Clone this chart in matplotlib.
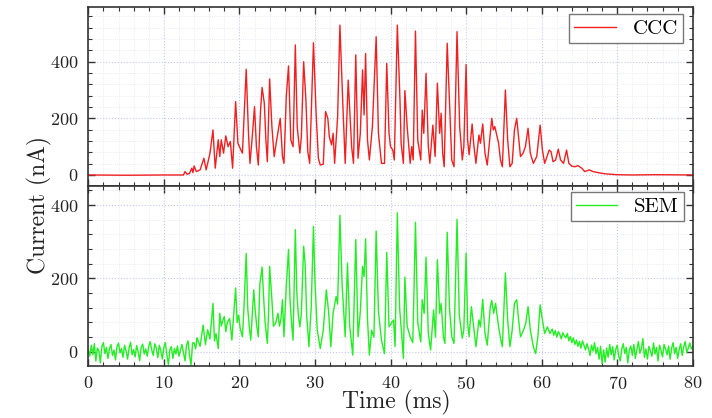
import matplotlib
matplotlib.use("Agg")
import matplotlib.pyplot as plt
from matplotlib.ticker import MultipleLocator
import numpy as np

plt.rcParams["font.family"] = ["cmr10", "DejaVu Serif"]
plt.rcParams["mathtext.fontset"] = "cm"
plt.rcParams["axes.formatter.use_mathtext"] = True

# ─── CCC signal ──────────────────────────────────────────────────────────────
ccc_time = [
    0, 5, 10, 12.6, 12.8, 13.1, 13.4, 13.7, 13.85, 14.0, 14.3, 14.8, 15.3, 15.6,
    16.1, 16.5, 16.8, 17.2, 17.4, 17.6, 17.9, 18.2, 18.5, 18.8, 19.1, 19.5, 19.8,
    20.1, 20.4, 20.9, 21.2, 21.4, 21.7, 22.0, 22.25, 22.5, 22.8, 23.0, 23.3, 23.5,
    23.7, 24.0, 24.3, 24.6, 24.9, 25.4, 25.7, 25.9, 26.2, 26.5, 26.8, 27.1, 27.4,
    27.65, 28.0, 28.2, 28.5, 28.8, 29.05, 29.3, 29.8, 30.15, 30.45, 30.7, 31.1,
    31.4, 31.7, 31.9, 32.2, 32.4, 32.6, 33.0, 33.3, 33.7, 34.0, 34.4, 34.85, 35.1,
    35.4, 35.7, 36.0, 36.3, 36.5, 36.7, 36.95, 37.2, 37.6, 38.1, 38.4, 38.8, 39.2,
    39.5, 39.8, 40.0, 40.3, 40.5, 40.9, 41.25, 41.4, 41.7, 41.9, 42.2, 42.6, 42.8,
    43.0, 43.3, 43.6, 44.0, 44.2, 44.4, 44.7, 45.0, 45.2, 45.6, 45.9, 46.2, 46.5,
    46.7, 46.9, 47.1, 47.5, 47.85, 48.1, 48.4, 48.8, 49.15, 49.5, 49.7, 50.0, 50.2,
    50.4, 50.8, 51.0, 51.3, 51.7, 51.9, 52.2, 52.5, 52.8, 53.2, 53.4, 53.6, 53.8,
    54.0, 54.3, 54.55, 54.8, 55.2, 55.5, 55.8, 56.1, 56.4, 56.7, 56.9, 57.2, 57.55,
    57.85, 58.2, 58.5, 58.9, 59.35, 59.8, 60.1, 60.4, 60.7, 61.0, 61.25, 61.5,
    61.85, 62.2, 62.5, 62.9, 63.3, 63.6, 64.0, 64.4, 64.8, 65.3, 65.7, 66.3, 66.8,
    67.5, 68.4, 69.9, 72, 75, 80,
]
ccc_current = [
    0, -1, 0, 0, 12, 2, 6, 24, 8, 32, 12, 18, 59, 18,
    76, 159, 24, 124, 65, 124, 77, 138, 100, 118, 24, 259, 112,
    94, 77, 373, 147, 41, 135, 241, 100, 35, 229, 309, 253, 124,
    47, 339, 171, 65, 118, 200, 65, 41, 276, 385, 124, 100, 459,
    171, 77, 135, 400, 265, 82, 41, 467, 218, 59, 35, 38,
    224, 200, 135, 106, 147, 41, 206, 529, 241, 41, 335, 100, 41,
    424, 59, 147, 371, 212, 429, 124, 53, 171, 488, 147, 41, 41,
    394, 147, 100, 88, 53, 529, 265, 112, 41, 298, 171, 41, 100,
    53, 508, 124, 53, 229, 147, 359, 100, 41, 176, 65, 324, 147,
    218, 77, 29, 465, 229, 53, 29, 506, 171, 53, 100, 390, 124,
    71, 180, 112, 41, 141, 112, 180, 77, 35, 147, 200, 159, 171,
    147, 112, 53, 29, 300, 124, 29, 41, 159, 200, 147, 65, 77,
    100, 165, 77, 41, 65, 176, 88, 41, 65, 88, 82, 47,
    53, 91, 53, 41, 88, 41, 31, 29, 33, 24, 12, 18, 12,
    8, 4, 1, 0, 1, 0,
]

# ─── SEM signal ──────────────────────────────────────────────────────────────
# baseline noise before the spill, one value every 0.2 ms from t = 0
sem_head = [
    5, -12, 18, -8, 22, -25, 10, 3, -30, 15,
    25, -5, 12, -18, 8, 20, -10, 5, -22, 14,
    24, -3, 9, -15, 18, 2, -20, 11, 26, -8,
    6, -14, 17, 0, -24, 12, 21, -6, 8, -12,
    15, 28, 5, -10, 22, 10, -16, 18, 3, -20,
    12, 25, -8, -35, 6, 14, -18, 9, -6, 16,
    -12, 4, 20, -2, -25, 18, 30, -10, -36, 24,
    25, 8, 38,
]
sem_time = [
    14.5, 14.8, 15.2, 15.5, 15.8, 16.1, 16.5, 16.7, 16.9, 17.2, 17.4, 17.6, 17.8,
    18.0, 18.2, 18.4, 18.7, 19.0, 19.2, 19.5, 19.7, 19.9, 20.1, 20.4, 20.6, 20.9,
    21.1, 21.3, 21.5, 21.7, 21.9, 22.1, 22.3, 22.5, 22.7, 23.0, 23.2, 23.4, 23.7,
    23.85, 24.0, 24.3, 24.5, 24.8, 25.1, 25.3, 25.5, 25.7, 25.9, 26.2, 26.5, 26.7,
    26.9, 27.1, 27.4, 27.6, 27.8, 28.0, 28.2, 28.5, 28.7, 28.9, 29.2, 29.5, 29.8,
    30.0, 30.3, 30.7, 31.1, 31.5, 31.8, 32.1, 32.4, 32.8, 33.0, 33.3, 33.6, 34.0,
    34.3, 34.6, 35.0, 35.4, 35.7, 36.0, 36.3, 36.5, 36.7, 36.95, 37.2, 37.5, 37.8,
    38.1, 38.4, 38.8, 39.2, 39.5, 39.8, 40.1, 40.4, 40.6, 40.9, 41.2, 41.5, 41.7,
    41.9, 42.2, 42.6, 42.95, 43.3, 43.6, 44.0, 44.2, 44.45, 44.7, 45.0, 45.3, 45.7,
    45.95, 46.2, 46.5, 46.7, 47.0, 47.2, 47.5, 47.8, 48.1, 48.4, 48.8, 49.1, 49.5,
    49.7, 50.0, 50.2, 50.4, 50.7, 51.0, 51.3, 51.7, 51.9, 52.2, 52.5, 52.8, 53.2,
    53.4, 53.65, 53.9, 54.3, 54.6, 54.8, 55.2, 55.5, 55.8, 56.1, 56.4, 56.7, 56.95,
    57.2, 57.6, 57.9, 58.2, 58.5, 58.9, 59.2, 59.5, 59.8, 60.1, 60.4, 60.75, 61.1,
]
sem_current = [
    32, 15, 73, 20, 60, 35, 132, 30, 50, 9, 105, 70, 85,
    96, 55, 80, 91, 32, 90, 174, 80, 100, 64, 41, 120, 268,
    120, 70, 32, 100, 169, 110, 70, 41, 183, 231, 150, 80, 23,
    100, 233, 142, 70, 78, 105, 70, 90, 142, 41, 178, 279, 140,
    80, 32, 333, 160, 100, 68, 105, 288, 240, 100, 14, 120, 342,
    190, 60, 9, 59, 169, 110, 14, 105, 151, 130, 372, 180, 41,
    242, 70, -9, 306, 41, 110, 233, 205, 308, 90, -9, 59, 40,
    329, 110, 32, -5, 271, 68, 78, 87, 14, 379, 120, 40, -18,
    204, 70, 41, 25, 353, 80, 27, 142, 105, 258, 50, 5, 114,
    40, 251, 105, 132, 40, 23, 326, 120, 41, 23, 361, 100, 37,
    60, 269, 80, 41, 123, 68, 14, 87, 68, 143, 50, 18, 123,
    140, 105, 132, 68, 32, 14, 215, 87, 14, 59, 132, 142, 87,
    41, 59, 78, 123, 59, 14, -5, 41, 128, 87, 50, 68, 50,
]
# decaying tail, one value every 0.2 ms from t = 61.4 to 80
sem_tail = [
    62, 45, 58, 40, 55, 48, 35, 52, 44, 38, 50, 30, 42,
    25, 38, 20, 32, 15, 28, 10, 30, 18, 5,
    22, 8, -10, 18, 2, 25, -5, 12, -20, 15,
    -32, 5, -28, 10, -15, 20, -8, 14, -22, 6,
    18, -12, -25, 8, 22, -5, 12, -30, 4, 16,
    -10, 20, -18, 6, 28, -4, 10, 36, -15, 8,
    -20, 15, 2, -12, 24, -6, 12, -25, 18, 4,
    -14, 20, 8, -8, 16, -20, 10, 25, -5, 12,
    -18, 6, 22, -10, 14, 28, -2, 10, 24, 8,
    15,
]

t_sem = np.concatenate([0.2 * np.arange(len(sem_head)), sem_time,
                        61.4 + 0.2 * np.arange(len(sem_tail))])
i_sem = np.concatenate([sem_head, sem_current, sem_tail])

# ─── Figure ──────────────────────────────────────────────────────────────────
fig = plt.figure(figsize=(7.12, 4.18), dpi=100)
ax1 = fig.add_axes([0.124, 0.555, 0.849, 0.4275])
ax2 = fig.add_axes([0.124, 0.125, 0.849, 0.430])

ax1.plot(ccc_time, ccc_current, color="#f02020", lw=1.0, label="CCC")
ax2.plot(t_sem, i_sem, color="#22ee22", lw=1.0, label="SEM")

ax1.set_ylim(-39, 592)
ax2.set_ylim(-38, 452)

for ax in (ax1, ax2):
    ax.set_xlim(0, 80)
    ax.xaxis.set_major_locator(MultipleLocator(10))
    ax.xaxis.set_minor_locator(MultipleLocator(2))
    ax.yaxis.set_major_locator(MultipleLocator(200))
    ax.yaxis.set_minor_locator(MultipleLocator(40))
    ax.tick_params(which="both", direction="in", top=True, right=True,
                   colors="#333333", labelcolor="#222222", labelsize=13)
    ax.tick_params(which="major", length=5, width=1.0)
    ax.tick_params(which="minor", length=3, width=0.8)
    ax.tick_params(axis="y", pad=7)
    ax.tick_params(axis="x", pad=7)
    ax.grid(which="major", color="#c4c8ec", ls=":", lw=0.8)
    ax.grid(which="minor", color="#e2e4f2", ls=":", lw=0.6)
    ax.set_axisbelow(True)
    for sp in ax.spines.values():
        sp.set_color("#333333")
        sp.set_linewidth(1.2)

ax1.tick_params(labelbottom=False)

ax1.legend(loc="upper right", bbox_to_anchor=(0.984, 0.9625), borderaxespad=0,
           fontsize=15, fancybox=False, edgecolor="#777777", framealpha=1,
           handlelength=2.0, borderpad=0.25)
ax2.legend(loc="upper right", bbox_to_anchor=(0.9856, 0.9666), borderaxespad=0,
           fontsize=15, fancybox=False, edgecolor="#777777", framealpha=1,
           handlelength=2.0, borderpad=0.25)

fig.text(0.056, 0.51, "Current (nA)", rotation=90, ha="center", va="center",
         fontsize=17, color="#222222")
fig.text(0.556, 0.036, "Time (ms)", ha="center", va="center", fontsize=17,
         color="#222222")

fig.savefig("out.png", dpi=100)
